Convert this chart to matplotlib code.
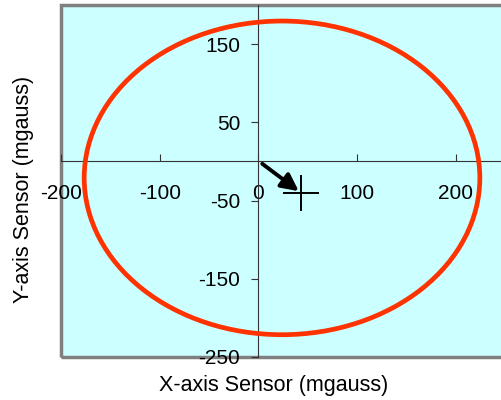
import matplotlib.pyplot as plt
from matplotlib.patches import Ellipse, Rectangle

plt.rcParams["font.family"] = ["Liberation Sans", "DejaVu Sans"]
plt.rcParams["axes.unicode_minus"] = False

# data (mgauss)
x_ticks = [-200, -100, 0, 100, 200]
y_ticks = [-250, -150, -50, 50, 150]
x_limits = (-200, 250)
y_limits = (-250, 200)

ellipse_center = (24, -21)
ellipse_width = 401
ellipse_height = 401

offset_center = (43, -40)
arrow_start = (4, -3)
arrow_end = (41, -38)

fig = plt.figure(figsize=(5.02, 4.0), dpi=100)
ax = fig.add_axes([61 / 502, 43 / 400, 444 / 502, 352 / 400])
ax.set_facecolor("#CCFFFF")

ax.set_xlim(*x_limits)
ax.set_ylim(*y_limits)
ax.set_xticks(x_ticks)
ax.set_yticks(y_ticks)

# axes crossing at the origin
ax.spines["left"].set_position(("data", 0))
ax.spines["bottom"].set_position(("data", 0))
ax.spines["top"].set_visible(False)
ax.spines["right"].set_visible(False)
for side in ("left", "bottom"):
    ax.spines[side].set_color("#333333")
    ax.spines[side].set_linewidth(0.8)

ax.tick_params(axis="x", direction="in", length=5, width=0.8, pad=16,
               labelsize=15, color="#333333")
ax.tick_params(axis="y", direction="out", length=5, width=0.8, pad=8,
               labelsize=15, color="#333333")

# gray plot-area frame
ax.add_patch(Rectangle((0, 0), 1, 1, transform=ax.transAxes, fill=False,
                       edgecolor="#808080", linewidth=2.5, clip_on=False,
                       zorder=1))

ax.add_patch(Ellipse(ellipse_center, ellipse_width, ellipse_height,
                     fill=False, edgecolor="#FF3300", linewidth=3.4, zorder=3))

ax.plot(*offset_center, marker="+", markersize=26, mew=1.4, color="black",
        zorder=4)
ax.annotate("", xy=arrow_end, xytext=arrow_start,
            arrowprops=dict(arrowstyle="-|>", lw=2.8, color="black",
                            mutation_scale=26, shrinkA=0, shrinkB=0),
            zorder=4)

ax.set_xlabel("X-axis Sensor (mgauss)", fontsize=15.5)
ax.set_ylabel("Y-axis Sensor (mgauss)", fontsize=15.5)
ax.xaxis.set_label_coords(0.48, -0.052)
ax.yaxis.set_label_coords(-0.06, 0.477)

fig.savefig("out.png", dpi=100)
